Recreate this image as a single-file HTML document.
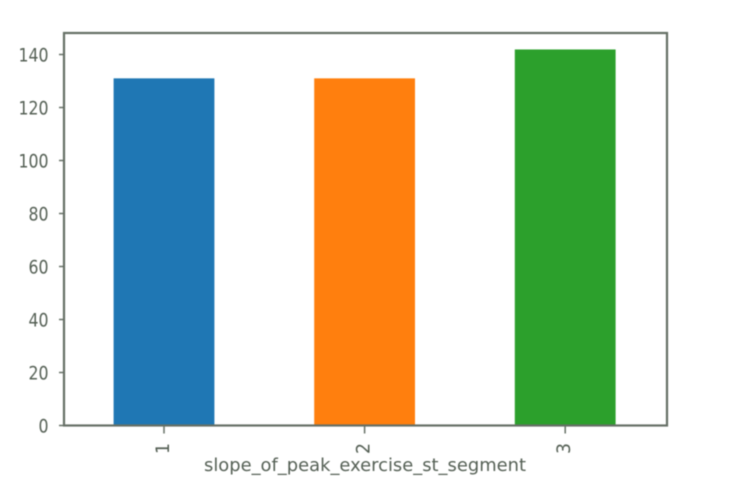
<!DOCTYPE html>
<html>
<head>
<meta charset="utf-8">
<style>
html,body{margin:0;padding:0;background:#fff;width:746px;height:500px;overflow:hidden}
svg{display:block;filter:blur(0.55px)}
text{font-family:"DejaVu Sans","Liberation Sans",sans-serif;fill:#556055}
</style>
</head>
<body>
<svg id="chart" width="746" height="500" viewBox="0 0 746 500" xmlns="http://www.w3.org/2000/svg">
<g id="bars"></g>
<g id="ticks"></g>
<rect x="64" y="33" width="603" height="392.5" fill="none" stroke="#667066" stroke-width="2.2"></rect>
<text x="204" y="471" font-size="18" textLength="322" lengthAdjust="spacingAndGlyphs">slope_of_peak_exercise_st_segment</text>
</svg>
<script>
var categories = ["1", "2", "3"];
var seriesValues = [131, 131, 141.9];
var barColors = ["#1f77b4", "#ff7f0e", "#2ca02c"];
var yTickLabels = [0, 20, 40, 60, 80, 100, 120, 140];

var NS = "http://www.w3.org/2000/svg";
var plotLeft = 64, plotRight = 667, plotBottom = 425.5;
var pxPerUnit = 2.65;
var slotWidth = 200.6, barWidth = 100.8, firstCenter = 164;

function yScale(v) { return plotBottom - v * pxPerUnit; }
function xScale(i) { return firstCenter + i * slotWidth; }
function make(tag, attrs, parent) {
  var el = document.createElementNS(NS, tag);
  for (var k in attrs) { el.setAttribute(k, attrs[k]); }
  parent.appendChild(el);
  return el;
}

var barsGroup = document.getElementById("bars");
var ticksGroup = document.getElementById("ticks");

seriesValues.forEach(function (v, i) {
  var bar = make("rect", {
    x: xScale(i) - barWidth / 2,
    y: yScale(v),
    width: barWidth,
    height: plotBottom - yScale(v),
    fill: barColors[i]
  }, barsGroup);
  
  
});

yTickLabels.forEach(function (t) {
  var y = yScale(t);
  var mark = make("line", { x1: plotLeft - 5, x2: plotLeft, y1: y, y2: y, stroke: "#667066", "stroke-width": 1.5 }, ticksGroup);
  
  
  var digits = String(t).length;
  var label = make("text", { x: 48.5 - digits * 10, y: y + 7, "font-size": 19, textLength: digits * 10, lengthAdjust: "spacingAndGlyphs" }, ticksGroup);
  
  
  label.textContent = t;
});

categories.forEach(function (c, i) {
  var x = xScale(i);
  var mark = make("line", { x1: x, x2: x, y1: plotBottom, y2: plotBottom + 8, stroke: "#667066", "stroke-width": 1.5 }, ticksGroup);
  
  
  var baseX = x + 5;
  var startY = 454;
  var label = make("text", { x: baseX, y: startY, "font-size": 19, textLength: 11, lengthAdjust: "spacingAndGlyphs", transform: "rotate(-90 " + baseX + " " + startY + ")" }, ticksGroup);
  
  
  label.textContent = c;
});
</script>
</body>
</html>
